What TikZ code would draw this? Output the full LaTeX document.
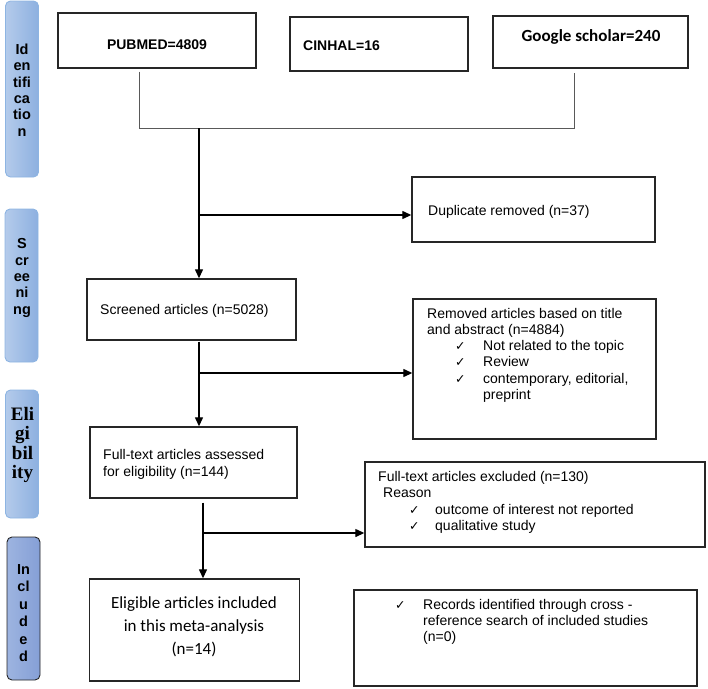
\documentclass[tikz,border=0pt]{standalone}
\usepackage{fontspec}
\setmainfont{Liberation Sans}
\newfontfamily\carl{Carlito}
\newfontfamily\tms{Liberation Serif}
\newfontfamily\djv{DejaVu Sans}
\usetikzlibrary{arrows.meta,calc}
\definecolor{sideL}{HTML}{B4CBEB}
\definecolor{sideR}{HTML}{8DB0E0}
\definecolor{sideB}{HTML}{8DB4E2}
\definecolor{inclL}{HTML}{9DB4E0}
\definecolor{inclR}{HTML}{859FD6}
\newcommand{\chk}{{\djv\fontsize{12.5}{12.5}\selectfont ✓}}
\newcommand{\tl}[4]{\node[txt] (#1) at (#2,#3) {#4};}
\begin{document}
\begin{tikzpicture}[x=1pt,y=-1pt,
 bx/.style={draw=black!85, line width=1.4pt, rectangle, inner sep=0},
 side/.style={rounded corners=5pt, draw=sideB, line width=0.9pt, left color=sideL, right color=sideR, inner sep=0, minimum width=33pt},
 sidetxt/.style={align=center, font=\bfseries\fontsize{14.5}{16.3}\selectfont, inner sep=0},
 txt/.style={anchor=base west, inner sep=0, font=\fontsize{14}{16.3}\selectfont},
 ctxt/.style={anchor=base, inner sep=0},
 conn/.style={draw=black!65, line width=0.8pt},
 arr/.style={line width=1.3pt, -{Triangle[length=9pt,width=8pt]}},
 lnk/.style={line width=1.3pt}
]
\useasboundingbox (0,0) rectangle (708,688);

% side bars
\node[side, minimum height=176pt] (sbId) at (22,89) {};
\node[side, minimum height=153pt] (sbSc) at (21.5,285.5) {};
\node[side, minimum height=128pt] (sbEl) at (22,454) {};
\node[side, minimum height=143pt, draw=black!85, left color=inclL, right color=inclR] (sbIn) at (23.5,608.5) {};
\node[sidetxt] (tId) at (22,90) {Id\\en\\tifi\\ca\\tio\\n};
\node[sidetxt] (tSc) at (22,278) {S\\cr\\ee\\ni\\ng};
\node[sidetxt, font=\tms\bfseries\fontsize{19}{19.5}\selectfont] (tEl) at (22.5,445) {Eli\\gi\\bil\\ity};
\node[sidetxt, font=\bfseries\fontsize{14.5}{17.4}\selectfont] (tIn) at (23.5,613) {In\\cl\\u\\d\\e\\d};

% boxes
\node[bx, minimum width=198pt, minimum height=55pt] (pub) at (157,40.5) {};
\node[bx, minimum width=178pt, minimum height=54pt] (cin) at (379,44) {};
\node[bx, minimum width=195pt, minimum height=52pt] (goo) at (590.5,42) {};
\node[bx, minimum width=243pt, minimum height=65pt] (dup) at (533.5,209.5) {};
\node[bx, minimum width=209pt, minimum height=61pt] (scr) at (191.5,309.5) {};
\node[bx, minimum width=243pt, minimum height=140pt] (rem) at (534.5,369) {};
\node[bx, minimum width=207pt, minimum height=71pt] (ful) at (193.5,462.5) {};
\node[bx, minimum width=340pt, minimum height=85pt] (exc) at (535,504.5) {};
\node[bx, minimum width=210pt, minimum height=102pt] (eli) at (194.5,630) {};
\node[bx, minimum width=343pt, minimum height=96pt] (rec) at (525.5,638) {};

% top texts
\node[ctxt, font=\bfseries\fontsize{14}{16}\selectfont] (tpub) at (157,49) {PUBMED=4809};
\node[txt, font=\bfseries\fontsize{14}{16}\selectfont] (tcin) at (303,50) {CINHAL=16};
\node[ctxt, font=\carl\bfseries\fontsize{17}{20}\selectfont] (tgoo) at (591,41.5) {Google scholar=240};

% other texts
\tl{tdup}{428}{215.5}{Duplicate removed (n=37)}
\tl{tscr}{100}{314.5}{Screened articles (n=5028)}
\tl{trem1}{427}{318.5}{Removed articles based on title}
\tl{trem2}{427}{334.5}{and abstract (n=4884)}
\tl{cr1}{455}{350.5}{\chk}
\tl{cr2}{455}{366.5}{\chk}
\tl{cr3}{455}{383}{\chk}
\tl{ir1}{483}{350.5}{Not related to the topic}
\tl{ir2}{483}{366.5}{Review}
\tl{ir3}{483}{383}{contemporary, editorial,}
\tl{ir4}{483}{399.5}{preprint}
\tl{tful1}{103}{459.5}{Full-text articles assessed}
\tl{tful2}{103}{476}{for eligibility (n=144)}
\tl{texc1}{378}{481.5}{Full-text articles excluded (n=130)}
\tl{texc2}{383}{497.5}{Reason}
\tl{ce1}{409}{514}{\chk}
\tl{ce2}{409}{530.5}{\chk}
\tl{ie1}{435}{514}{outcome of interest not reported}
\tl{ie2}{435}{530.5}{qualitative study}
\tl{crc}{395}{609.5}{\chk}
\tl{trc1}{423}{609.5}{Records identified through cross -}
\tl{trc2}{423}{625.5}{reference search of included studies}
\tl{trc3}{423}{641.5}{(n=0)}
\node[ctxt, font=\carl\fontsize{17}{20}\selectfont] (teli1) at (194,608) {Eligible articles included};
\node[ctxt, font=\carl\fontsize{17}{20}\selectfont] (teli2) at (194,631) {in this meta-analysis};
\node[ctxt, font=\carl\fontsize{17}{20}\selectfont] (teli3) at (194,654) {(n=14)};

% connectors
\coordinate (jl) at (139,128);
\coordinate (jr) at (574,128);
\coordinate (jm) at (199,128);
\coordinate (b1) at (199,215);
\coordinate (b2) at (199,373);
\coordinate (b3) at (203,533);
\draw[conn] ($(pub.south -| jl)+(0,3)$) -- (jl) -- (jr) -- ($(goo.south -| jr)+(0,4)$);
\draw[arr] (jm) -- (scr.north -| jm);
\draw[arr] (b1) -- (dup.west |- b1);
\draw[arr] ($(scr.south -| jm)+(0,1)$) -- (ful.north -| jm);
\draw[arr] (b2) -- (rem.west |- b2);
\draw[arr] ($(ful.south -| b3)+(0,4)$) -- (eli.north -| b3);
\draw[arr] (b3) -- (exc.west |- b3);
\end{tikzpicture}
\end{document}
